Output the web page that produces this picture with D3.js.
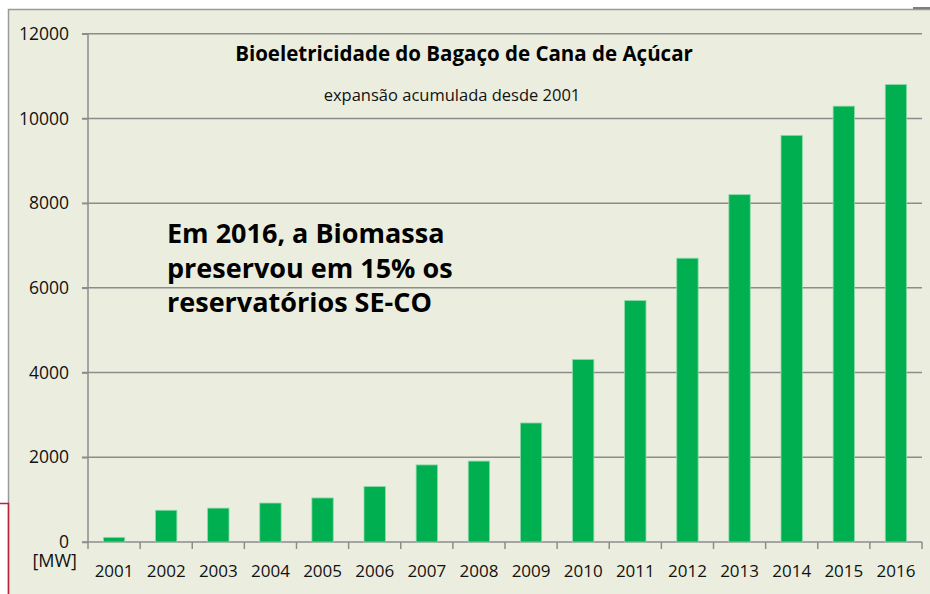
<!DOCTYPE html>
<html>
<head>
<meta charset="utf-8">
<script src="https://cdn.jsdelivr.net/npm/d3@7"></script>
<style>
  body { margin: 0; background: #fff; }
  svg { display: block; font-family: 'Open Sans', sans-serif; }
</style>
</head>
<body>
<div id="chart"></div>
<script>
// data (MW, accumulated since 2001)
var years = ['2001', '2002', '2003', '2004', '2005', '2006', '2007', '2008',
  '2009', '2010', '2011', '2012', '2013', '2014', '2015', '2016'];
var capacity = [110, 750, 800, 920, 1040, 1310, 1820, 1910,
  2810, 4310, 5700, 6700, 8200, 9600, 10290, 10800];
var yTicks = [0, 2000, 4000, 6000, 8000, 10000, 12000];
var noteLines = ['Em 2016, a Biomassa', 'preservou em 15% os', 'reservatórios SE-CO'];

// set up svg
var width = 930,
  height = 594;

var svg = d3.select('#chart').append('svg')
    .attr('width', width)
    .attr('height', height);

// panel background
svg.append('rect')
    .attr('x', 8.5)
    .attr('y', 9.5)
    .attr('width', 940)
    .attr('height', 600)
    .style('fill', '#ebeede')
    .style('stroke', '#9a9a9a')
    .style('stroke-width', 1.5);

svg.append('line')
    .attr('x1', 913).attr('x2', 930)
    .attr('y1', 8).attr('y2', 8)
    .style('stroke', '#7f7f7f')
    .style('stroke-width', 2);

// red frame bit on the lower left
svg.append('path')
    .attr('d', 'M0,503.5H8.5V594')
    .style('fill', 'none')
    .style('stroke', '#b3263c')
    .style('stroke-width', 1.5);

var plotLeft = 88, plotRight = 922, plotTop = 33.7, plotBottom = 542;

var x = d3.scaleBand()
    .domain(years)
    .range([plotLeft, plotRight])
    .paddingInner(0.59)
    .paddingOuter(0.295);

var y = d3.scaleLinear()
    .domain([0, 12000])
    .range([plotBottom, plotTop]);

// gridlines
svg.append('g')
    .selectAll('line')
    .data(yTicks)
    .enter().append('line')
    .attr('x1', plotLeft - 6)
    .attr('x2', plotRight)
    .attr('y1', function(d) { return y(d); })
    .attr('y2', function(d) { return y(d); })
    .style('stroke', '#8c8c8c')
    .style('stroke-width', 1.5);

// bars
svg.append('g')
    .selectAll('rect')
    .data(capacity)
    .enter().append('rect')
    .attr('x', function(d, i) { return x(years[i]); })
    .attr('y', function(d) { return y(d); })
    .attr('width', x.bandwidth())
    .attr('height', function(d) { return plotBottom - y(d); })
    .style('fill', '#00b050')
    .style('stroke', '#8fd9a8')
    .style('stroke-width', 0.8);

// y axis
var yAxis = d3.axisLeft(y)
    .tickValues(yTicks)
    .tickSize(6)
    .tickPadding(13)
    .tickFormat(d3.format('d'));

svg.append('g')
    .attr('class', 'y axis')
    .attr('transform', 'translate(' + plotLeft + ',0)')
    .call(yAxis)
    .call(function(g) {
      g.select('.domain').remove();
      g.selectAll('line').style('stroke', '#8c8c8c').style('stroke-width', 1.5);
      g.selectAll('text').style('font-size', '17.5px').style('fill', '#111')
        .style('font-family', "'Open Sans', sans-serif");
    });

svg.append('line')
    .attr('x1', plotLeft).attr('x2', plotLeft)
    .attr('y1', plotTop).attr('y2', plotBottom + 7)
    .style('stroke', '#8c8c8c')
    .style('stroke-width', 1.5);

// x axis: ticks sit between the categories
var xAxis = d3.axisBottom(x)
    .tickSize(0)
    .tickPadding(23);

svg.append('g')
    .attr('class', 'x axis')
    .attr('transform', 'translate(0,' + plotBottom + ')')
    .call(xAxis)
    .call(function(g) {
      g.select('.domain').remove();
      g.selectAll('text').style('font-size', '17px').style('fill', '#111')
        .style('font-family', "'Open Sans', sans-serif");
    });

svg.append('g')
    .selectAll('line')
    .data(years)
    .enter().append('line')
    .attr('x1', function(d) { return x(d) + x.bandwidth() + x.step() * 0.295; })
    .attr('x2', function(d) { return x(d) + x.bandwidth() + x.step() * 0.295; })
    .attr('y1', plotBottom)
    .attr('y2', plotBottom + 7)
    .style('stroke', '#8c8c8c')
    .style('stroke-width', 1.5);

svg.append('text')
    .attr('x', 77)
    .attr('y', 567)
    .attr('text-anchor', 'end')
    .style('font-size', '18px')
    .style('fill', '#111')
    .text('[MW]');

// titles
svg.append('text')
    .attr('x', 464)
    .attr('y', 61)
    .attr('text-anchor', 'middle')
    .style('font-size', '20.5px')
    .style('font-weight', 'bold')
    .style('fill', '#000')
    .text('Bioeletricidade do Bagaço de Cana de Açúcar');

svg.append('text')
    .attr('x', 452)
    .attr('y', 101)
    .attr('text-anchor', 'middle')
    .style('font-size', '16.5px')
    .style('fill', '#111')
    .text('expansão acumulada desde 2001');

// note
svg.append('g')
    .selectAll('text')
    .data(noteLines)
    .enter().append('text')
    .attr('x', 167)
    .attr('y', function(d, i) { return 243 + i * 34.5; })
    .style('font-size', '27px')
    .style('font-weight', 'bold')
    .style('fill', '#000')
    .text(function(d) { return d; });
</script>
</body>
</html>
